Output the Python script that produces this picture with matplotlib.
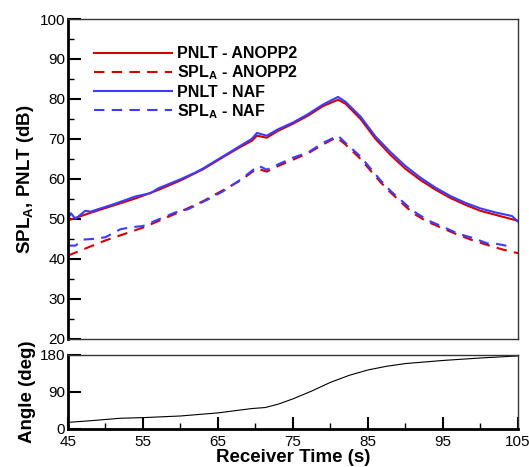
import numpy as np
import matplotlib.pyplot as plt

plt.rcParams['font.family'] = 'Liberation Sans'
plt.rcParams['mathtext.fontset'] = 'custom'
plt.rcParams['mathtext.bf'] = 'Liberation Sans:bold'
plt.rcParams['mathtext.rm'] = 'Liberation Sans:bold'
plt.rcParams['mathtext.default'] = 'bf'

# PNLT - ANOPP2
t_pnlt_a = [45, 48, 51, 54, 57, 60, 63, 66, 68, 69.5, 70.2, 71.5, 73, 75, 77, 79, 81,
            82, 84, 86, 88, 90, 92, 94, 96, 98, 100, 102, 104, 105]
pnlt_a = [49.6, 51.5, 53.3, 55.1, 57.2, 59.6, 62.4, 65.8, 68.0, 69.5, 70.8, 70.3, 72.0,
          73.8, 75.8, 78.2, 79.8, 78.8, 75.0, 70.0, 66.0, 62.5, 59.7, 57.3, 55.2, 53.5,
          52.0, 51.0, 50.0, 49.5]
# PNLT - NAF
t_pnlt_n = [45, 45.4, 46, 47.3, 48, 51, 54, 56, 57, 60, 62, 63, 66, 68, 69.5, 70.2, 71.5,
            73, 75, 77, 79, 81, 82, 84, 86, 88, 90, 92, 94, 96, 98, 100, 102, 104.2, 105]
pnlt_n = [50.0, 51.4, 50.0, 52.0, 51.8, 53.6, 55.6, 56.4, 57.6, 59.9, 61.6, 62.6, 66.0,
          68.3, 70.0, 71.5, 70.8, 72.4, 74.1, 76.2, 78.6, 80.5, 79.3, 75.6, 70.6, 66.7,
          63.2, 60.3, 57.8, 55.7, 54.0, 52.6, 51.6, 50.7, 49.3]
# SPL_A - ANOPP2
t_spl_a = [45, 50, 55, 60, 63, 66, 68, 70.2, 71.5, 73, 75, 77, 79, 80.8, 82, 84, 86.6,
           88, 91, 93, 95, 97, 99, 101, 103, 105]
spl_a = [40.8, 44.6, 47.8, 51.8, 54.4, 57.5, 59.6, 62.6, 61.8, 63.2, 64.8, 66.4, 68.6,
         70.4, 68.6, 65.0, 59.3, 56.6, 51.4, 49.2, 47.6, 46.0, 44.6, 43.4, 42.3, 41.4]
# SPL_A - NAF
t_spl_n = [45, 46, 47, 48.6, 50, 52, 53.5, 55, 57, 59.3, 61, 63.6, 65.6, 68, 70.4, 71.5,
           73, 75, 77, 79, 81, 82, 84, 86.6, 88, 91, 93, 95, 97, 99, 101, 102, 103.9]
spl_n = [43.3, 43.3, 44.8, 45.0, 45.4, 47.4, 47.9, 48.2, 49.8, 51.6, 52.4, 54.8, 56.8,
         59.8, 63.3, 62.3, 63.6, 65.3, 66.6, 69.0, 70.8, 69.0, 65.6, 59.8, 57.0, 52.0,
         49.6, 48.0, 46.3, 45.2, 43.8, 43.8, 43.1]
# observer angle
t_ang = [45, 48, 52, 55, 60, 65, 69.5, 71.3, 73, 75, 77.5, 80, 82.5, 85, 87.5, 90, 95, 100, 105]
angle = [16, 20, 26, 27.5, 31.5, 39, 49.5, 52, 60, 73, 92, 113, 130, 143, 152, 158.5, 166, 172, 177]

red = '#d40000'
blue = '#3c3cff'

fig = plt.figure(figsize=(5.29, 4.67), dpi=100)
ax = fig.add_axes([0.1285, 0.2747, 0.8507, 0.6846])
ax2 = fig.add_axes([0.1285, 0.0814, 0.8507, 0.1591])

dash = (0, (5, 3.5))
ax.plot(t_pnlt_a, pnlt_a, color=red, lw=1.5, label='PNLT - ANOPP2')
ax.plot(t_spl_a, spl_a, color=red, lw=1.5, ls=dash, label='SPL$_A$ - ANOPP2')
ax.plot(t_pnlt_n, pnlt_n, color=blue, lw=1.5, label='PNLT - NAF')
ax.plot(t_spl_n, spl_n, color=blue, lw=1.5, ls=dash, label='SPL$_A$ - NAF')

ax2.plot(t_ang, angle, color='black', lw=0.8)

for a in (ax, ax2):
    a.set_xlim(45, 105)
    a.spines['left'].set_linewidth(2)
    a.spines['bottom'].set_linewidth(2)
    a.spines['top'].set_linewidth(1)
    a.spines['right'].set_linewidth(1)
    a.spines['top'].set_color('#333333')
    a.spines['right'].set_color('#333333')
    a.tick_params(which='major', direction='in', length=9, width=1.5, labelsize=11, pad=2)
    a.tick_params(which='minor', direction='in', length=4.5, width=1)

ax.spines['bottom'].set_linewidth(1)
ax.spines['bottom'].set_color('#333333')
ax.set_ylim(20, 100)
ax.set_yticks(range(20, 101, 10))
ax.set_yticks(range(25, 100, 10), minor=True)
ax.set_xticks([])
ax.set_ylabel('SPL$_A$, PNLT (dB)', fontsize=13.5, fontweight='bold', labelpad=3)

ax2.set_ylim(0, 180)
ax2.set_yticks([0, 90, 180])
ax2.set_xticks(range(45, 106, 10))
ax2.set_xticks(range(50, 105, 10), minor=True)
ax2.tick_params(axis='x', pad=4)
ax2.set_ylabel('Angle (deg)', fontsize=13.5, fontweight='bold', labelpad=3)
ax2.set_xlabel('Receiver Time (s)', fontsize=13.5, fontweight='bold', labelpad=0.5)

ax.legend(loc='upper left', bbox_to_anchor=(0.026, 0.96), frameon=False,
          handlelength=4.9, handletextpad=0.3, labelspacing=0.15,
          prop={'weight': 'bold', 'size': 11.5})

fig.savefig('out.png', dpi=100)
